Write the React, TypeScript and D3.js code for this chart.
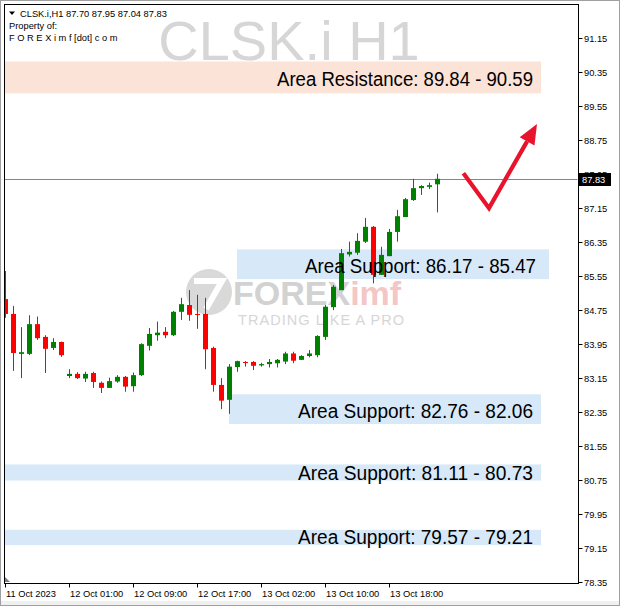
import React from "react";
import * as d3 from "d3";

const opens = [85.00, 84.65, 83.71, 83.71, 84.41, 84.11, 83.85, 83.99, 83.19, 83.24, 83.13, 83.26, 83.03, 82.91, 83.06, 83.17, 82.95, 83.21, 83.90, 84.15, 84.23, 84.15, 84.70, 84.86, 84.65, 84.65, 83.85, 82.98, 82.63, 83.40, 83.52, 83.52, 83.44, 83.47, 83.49, 83.53, 83.72, 83.57, 83.66, 83.68, 84.11, 84.81, 85.21, 86.05, 86.09, 86.35, 86.70, 85.57, 86.01, 86.58, 86.93, 87.33, 87.61, 87.64, 87.70];
const highs = [85.66, 84.84, 84.34, 84.62, 84.59, 84.15, 84.08, 84.00, 83.35, 83.28, 83.29, 83.29, 83.06, 83.15, 83.21, 83.19, 83.27, 83.96, 84.32, 84.47, 84.34, 84.72, 85.03, 85.21, 85.10, 85.03, 83.88, 83.14, 83.47, 83.55, 83.54, 83.54, 83.50, 83.59, 83.59, 83.76, 83.76, 83.68, 83.80, 84.15, 84.86, 85.33, 86.18, 86.35, 86.55, 86.91, 86.72, 86.23, 86.65, 87.10, 87.38, 87.83, 87.68, 87.74, 87.95];
const lows = [84.56, 83.31, 83.14, 83.68, 84.04, 83.26, 83.80, 83.64, 83.14, 83.12, 83.05, 82.91, 82.79, 82.91, 83.03, 82.82, 82.82, 83.19, 83.79, 84.02, 84.08, 84.13, 84.51, 84.49, 84.30, 83.35, 82.82, 82.41, 82.30, 83.29, 83.41, 83.33, 83.41, 83.39, 83.39, 83.47, 83.49, 83.57, 83.63, 83.63, 84.04, 84.74, 85.21, 86.00, 86.04, 86.32, 85.37, 85.57, 86.01, 86.35, 86.93, 87.31, 87.45, 87.59, 87.04];
const closes = [84.65, 83.73, 83.75, 84.41, 84.08, 83.83, 83.99, 83.68, 83.24, 83.14, 83.24, 83.05, 82.91, 83.07, 83.17, 82.94, 83.21, 83.94, 84.18, 84.21, 84.15, 84.70, 84.88, 84.63, 84.63, 83.82, 82.98, 82.61, 83.41, 83.54, 83.50, 83.43, 83.47, 83.52, 83.57, 83.72, 83.55, 83.66, 83.72, 84.13, 84.82, 85.29, 86.08, 86.11, 86.37, 86.70, 85.57, 86.04, 86.58, 86.95, 87.35, 87.61, 87.66, 87.68, 87.83];

const yTicks = [91.15, 90.35, 89.55, 88.75, 87.95, 87.15, 86.35, 85.55, 84.75, 83.95, 83.15, 82.35, 81.55, 80.75, 79.95, 79.15, 78.35];
const xTickBars = [0, 8, 16, 24, 32, 40, 48];
const xTickLabels = ["11 Oct 2023", "12 Oct 01:00", "12 Oct 09:00", "12 Oct 17:00", "13 Oct 02:00", "13 Oct 10:00", "13 Oct 18:00"];

const zoneNames = ["Area Resistance", "Area Support", "Area Support", "Area Support", "Area Support"];
const zoneHigh = [90.59, 86.17, 82.76, 81.11, 79.57];
const zoneLow = [89.84, 85.47, 82.06, 80.73, 79.21];
const zoneStartBar = [-1, 29, 28, -1, -1];
const zoneEndBar = [67, 68, 67, 67, 67];
const zoneKind = ["res", "sup", "sup", "sup", "sup"];

const arrowBars = [57.3, 60.5, 66.5];
const arrowPrices = [87.96, 87.14, 89.12];

const lastPrice = 87.83;
const symbol = "CLSK.i,H1";

const W = 620, H = 606;
const PL = 4, PT = 4, PR = 578, PB = 583;
const FONT = "'Liberation Sans', Arial, sans-serif";

export default function App() {
  const x = d3.scaleLinear().domain([0, 1]).range([5, 13]);
  const y = d3.scaleLinear().domain([78.35, 91.15]).range([581.7, 37.7]);

  const zoneLabelOffset = [7, 6, 6, 1, 1];
  const zoneLabelRight = [533, 536, 533, 533, 533];
  const zoneLabelWidth = [256, 231, 235, 235, 235];

  // arrow geometry
  const ap = arrowBars.map((b, i) => [x(b), y(arrowPrices[i])]);
  const tip = ap[2];
  const prev = ap[1];
  const dx = tip[0] - prev[0], dy = tip[1] - prev[1];
  const len = Math.hypot(dx, dy);
  const ux = dx / len, uy = dy / len;
  const hl = 20, hw = 8.5;
  const base = [tip[0] - ux * hl, tip[1] - uy * hl];
  const head = [
    [tip[0], tip[1]],
    [base[0] - uy * hw, base[1] + ux * hw],
    [base[0] + uy * hw, base[1] - ux * hw],
  ];
  const line = d3.line();

  const yl = Math.round(y(lastPrice)) + 0.5;

  return (
    <svg width={W} height={H} style={{ position: "absolute", left: 0, top: 0, fontFamily: FONT }}>
      <defs>
        <clipPath id="plot">
          <rect x={PL + 0.5} y={PT + 0.5} width={PR - PL - 1} height={PB - PT - 1} />
        </clipPath>
      </defs>
      <rect x={0} y={0} width={W} height={H} fill="#ffffff" />
      <rect x={0} y={601} width={W} height={5} fill="#f0f0f0" />
      <rect x={0.5} y={0.5} width={W - 1} height={H - 1} fill="none" stroke="#a0a0a0" />

      <g clipPath="url(#plot)">
        {/* big watermark */}
        <text x={289} y={60} fontSize={56} fill="#d6d6d6" textAnchor="middle" fontFamily={FONT}>CLSK.i H1</text>

        {/* FOREXimf logo watermark */}
        <g>
          <circle cx={209} cy={292} r={23} fill="#d9d9d9" />
          <path d="M194,281 L222,281 L206,309" fill="none" stroke="#ffffff" strokeWidth={6} />
          <text x={233} y={305} fontSize={34} fontWeight="bold" fill="#d2d2d2" fontFamily={FONT}>FOREX<tspan fill="#f4c6c6">imf</tspan></text>
          <text x={238} y={325} fontSize={14.5} fill="#d6d6d6" textLength={166} lengthAdjust="spacing" fontFamily={FONT}>TRADING LIKE A PRO</text>
        </g>

        {/* zones */}
        {zoneNames.map((n, i) => (
          <rect key={"z" + i}
            x={x(zoneStartBar[i])} y={y(zoneHigh[i])}
            width={x(zoneEndBar[i]) - x(zoneStartBar[i])}
            height={y(zoneLow[i]) - y(zoneHigh[i])}
            fill={zoneKind[i] === "res" ? "#fce3d7" : "#d7e9f8"} />
        ))}

        {/* price line */}
        <line x1={PL} x2={PR} y1={yl} y2={yl} stroke="#778899" strokeWidth={1} />

        {/* candles */}
        {opens.map((o, i) => {
          const c = closes[i];
          const cx = Math.round(x(i));
          const up = c >= o;
          const col = up ? "#008000" : "#ff0000";
          const top = y(Math.max(o, c));
          const bot = y(Math.min(o, c));
          return (
            <g key={"c" + i}>
              <line x1={cx + 0.5} x2={cx + 0.5} y1={y(highs[i])} y2={y(lows[i])} stroke={col} strokeWidth={1} />
              <rect x={cx - 2} y={top} width={5} height={Math.max(1, bot - top)} fill={col} />
            </g>
          );
        })}

        {/* zone labels */}
        {zoneNames.map((n, i) => (
          <text key={"zt" + i} x={zoneLabelRight[i]} y={y(zoneLow[i]) - zoneLabelOffset[i]}
            fontSize={20} fill="#000000" textAnchor="end" textLength={zoneLabelWidth[i]} lengthAdjust="spacingAndGlyphs" fontFamily={FONT}>
            {`${n}: ${zoneKind[i] === "res" ? zoneLow[i].toFixed(2) + " - " + zoneHigh[i].toFixed(2) : zoneHigh[i].toFixed(2) + " - " + zoneLow[i].toFixed(2)}`}
          </text>
        ))}

        {/* arrow */}
        <path d={line([ap[0], ap[1], base] as [number, number][]) || ""} fill="none" stroke="#e8132d" strokeWidth={4.2} strokeLinejoin="miter" />
        <path d={line(head as [number, number][]) + "Z"} fill="#e8132d" />

        {/* scroll marker */}
        <path d="M5,577 L5,582 L10,582 Z" fill="#708090" />
      </g>

      {/* header text */}
      <path d="M9,11.5 L15,11.5 L12,15 Z" fill="#000" />
      <text x={20} y={16.5} fontSize={9.3} fill="#000">{symbol}  {opens[opens.length - 1].toFixed(2)} {highs[highs.length - 1].toFixed(2)} {lows[lows.length - 1].toFixed(2)} {closes[closes.length - 1].toFixed(2)}</text>
      <text x={9} y={28.5} fontSize={9.3} fill="#000">Property of:</text>
      <text x={9} y={40.5} fontSize={9.3} fill="#000" style={{ whiteSpace: "pre" }}>F O R E X i m f [dot] c o m</text>

      {/* frame */}
      <rect x={PL + 0.5} y={PT + 0.5} width={PR - PL} height={PB - PT} fill="none" stroke="#000" strokeWidth={1} />

      {/* y axis */}
      {yTicks.map((t) => {
        const yy = Math.round(y(t)) + 0.5;
        return (
          <g key={"yt" + t}>
            <line x1={PR + 0.5} x2={PR + 4.5} y1={yy} y2={yy} stroke="#000" />
            <text x={584} y={yy + 3.3} fontSize={9.3} fill="#000">{t.toFixed(2)}</text>
          </g>
        );
      })}
      <rect x={579} y={yl - 6.5} width={32} height={13} fill="#000" />
      <text x={582} y={yl + 3.3} fontSize={9.3} fill="#fff">{lastPrice.toFixed(2)}</text>

      {/* x axis */}
      {xTickBars.map((b, i) => {
        const xx = Math.round(x(b)) + 0.5;
        return (
          <g key={"xt" + i}>
            <line x1={xx} x2={xx} y1={PB + 0.5} y2={PB + 4.5} stroke="#000" />
            <text x={xx + 0.5} y={597} fontSize={9.3} fill="#000">{xTickLabels[i]}</text>
          </g>
        );
      })}
    </svg>
  );
}
